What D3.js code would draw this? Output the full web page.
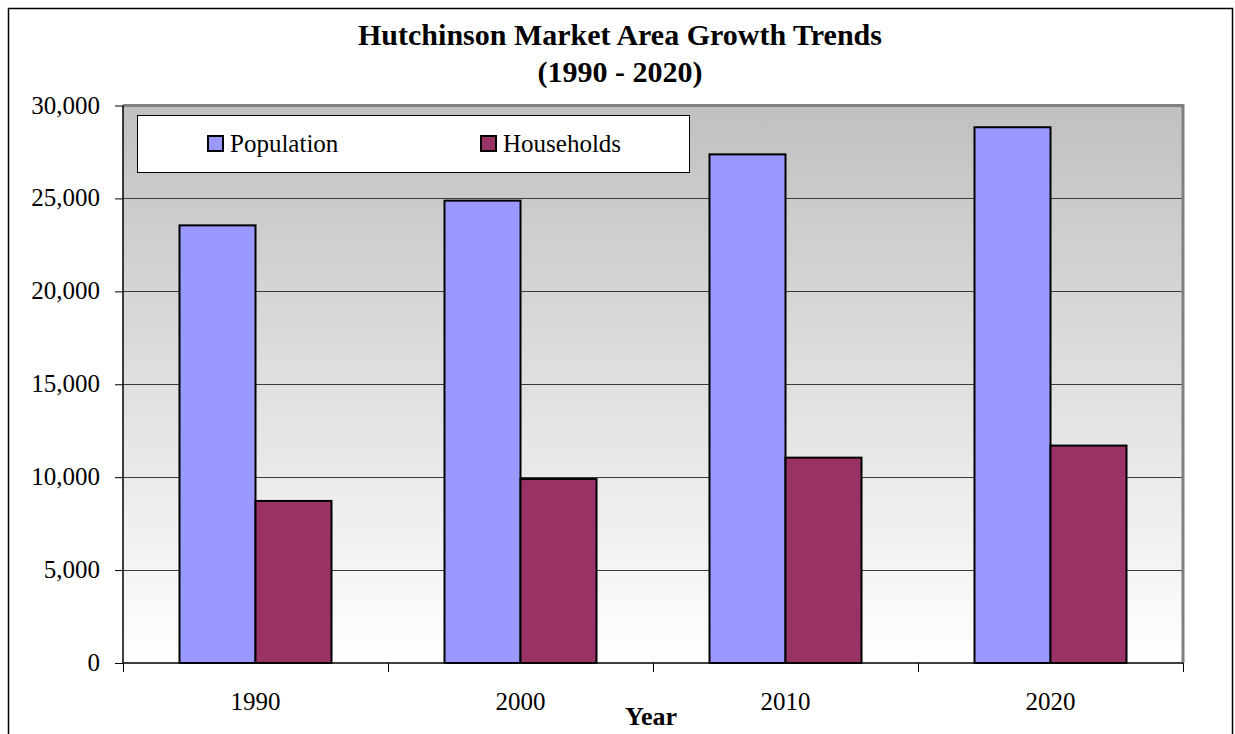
<!DOCTYPE html>
<html><head><meta charset="utf-8">
<script src="https://cdn.jsdelivr.net/npm/d3@7"></script>
<style>body{margin:0;background:#fff}svg{display:block}</style>
</head><body>
<svg id="c" width="1235" height="734"></svg>
<script>
const years = ["1990","2000","2010","2020"];
const seriesNames = ["Population","Households"];
const population = [23550, 24880, 27370, 28830];
const households = [8720, 9900, 11050, 11700];
const yTicks = [0,5000,10000,15000,20000,25000,30000];
const colors = ["#9999FF","#993366"];

const svg = d3.select("#c");
const font = "'Liberation Serif','Times New Roman',serif";
const L=123, R=1183, T=105.5, B=663;

// outer border
svg.append("rect").attr("x",8.5).attr("y",8.5).attr("width",1224).attr("height",740)
  .attr("fill","#fff").attr("stroke","#000").attr("stroke-width",1.5);

const defs = svg.append("defs");
const g = defs.append("linearGradient").attr("id","bg").attr("x1",0).attr("y1",0).attr("x2",0).attr("y2",1);
g.append("stop").attr("offset","0%").attr("stop-color","#c0c0c0");
g.append("stop").attr("offset","100%").attr("stop-color","#ffffff");

svg.append("rect").attr("x",L).attr("y",T).attr("width",R-L).attr("height",B-T).attr("fill","url(#bg)");

const x0 = d3.scaleBand().domain(years).range([L,R]).paddingInner(0).paddingOuter(0);
const y = d3.scaleLinear().domain([0,30000]).range([B,T]);
const bw = 76;
const x1 = d3.scaleBand().domain(seriesNames).range([0,bw*2]);

// grid
svg.append("g").selectAll("line").data(yTicks.filter(d=>d>0 && d<30000)).join("line")
  .attr("x1",L).attr("x2",R).attr("y1",d=>Math.round(y(d))+0.5).attr("y2",d=>Math.round(y(d))+0.5)
  .attr("stroke","#3a3a3a").attr("stroke-width",1);

// plot border: top & right gray
svg.append("path").attr("d",`M${L},${T} H${R} V${B}`).attr("fill","none").attr("stroke","#808080").attr("stroke-width",3);

// bars
const data = years.map((yr,i)=>({yr, vals:[population[i],households[i]]}));
const grp = svg.append("g").selectAll("g").data(data).join("g")
  .attr("transform",d=>`translate(${x0(d.yr)+(x0.bandwidth()-bw*2)/2},0)`);
grp.selectAll("rect").data(d=>d.vals.map((v,j)=>({v,s:seriesNames[j],j}))).join("rect")
  .attr("x",d=>x1(d.s)).attr("width",x1.bandwidth())
  .attr("y",d=>y(d.v)).attr("height",d=>B-y(d.v))
  .attr("fill",d=>colors[d.j]).attr("stroke","#000").attr("stroke-width",2);

// y axis
const ya = svg.append("g").attr("transform",`translate(${L},0)`)
  .call(d3.axisLeft(y).tickValues(yTicks).tickSize(8).tickPadding(15).tickFormat(d3.format(",")));
ya.select(".domain").attr("stroke","#000").attr("stroke-width",1.5).attr("d",`M0,${T}V${B}`);
ya.selectAll(".tick line").attr("stroke","#000");
ya.selectAll("text").attr("font-family",font).attr("font-size",25).attr("fill","#000").attr("dy","0.3em");

// x axis
const xa = svg.append("g").attr("transform",`translate(0,${B})`)
  .call(d3.axisBottom(x0).tickSize(0).tickPadding(0));
xa.select(".domain").attr("stroke","#000").attr("stroke-width",1.5).attr("d",`M${L},0H${R}`);
xa.selectAll(".tick text").attr("font-family",font).attr("font-size",25).attr("fill","#000").attr("dy",0).attr("y",47);
svg.append("g").selectAll("line").data(years.concat(["end"])).join("line")
  .attr("x1",(d,i)=>Math.round(L+i*x0.bandwidth())+0.5).attr("x2",(d,i)=>Math.round(L+i*x0.bandwidth())+0.5)
  .attr("y1",B).attr("y2",B+9).attr("stroke","#000");

// titles
svg.append("text").attr("x",620).attr("y",45).attr("text-anchor","middle").attr("font-family",font)
  .attr("font-weight","bold").attr("font-size",30).text("Hutchinson Market Area Growth Trends");
svg.append("text").attr("x",620).attr("y",82).attr("text-anchor","middle").attr("font-family",font)
  .attr("font-weight","bold").attr("font-size",30).text("(1990 - 2020)");
svg.append("text").attr("x",651).attr("y",725).attr("text-anchor","middle").attr("font-family",font)
  .attr("font-weight","bold").attr("font-size",26).text("Year");

// legend
const lg = svg.append("g");
lg.append("rect").attr("x",137.5).attr("y",115.5).attr("width",552).attr("height",57)
  .attr("fill","#fff").attr("stroke","#000").attr("stroke-width",1);
const lx = [208, 481];
seriesNames.forEach((s,i)=>{
  lg.append("rect").attr("x",lx[i]).attr("y",136).attr("width",15).attr("height",15)
    .attr("fill",colors[i]).attr("stroke","#000").attr("stroke-width",2);
  lg.append("text").attr("x",lx[i]+22).attr("y",152).attr("font-family",font).attr("font-size",25).text(s);
});
</script>
</body></html>
